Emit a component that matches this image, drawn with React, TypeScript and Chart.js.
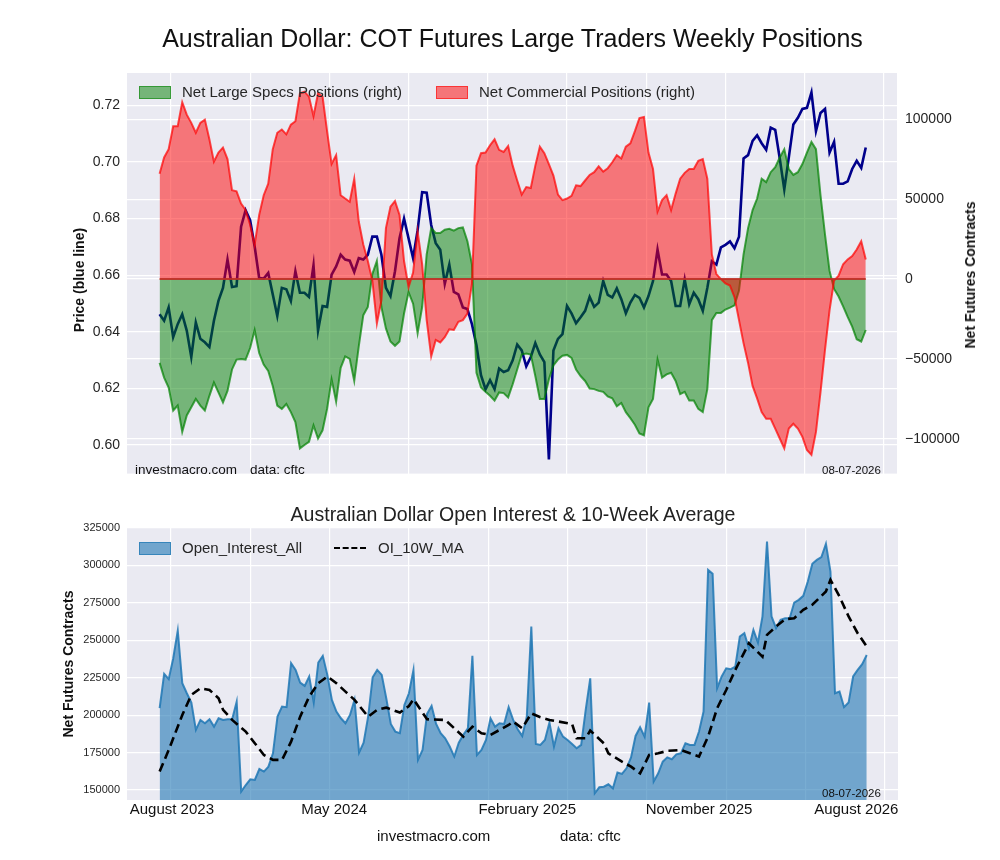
import React, { useEffect, useRef } from "react";
import { Chart, registerables } from "chart.js";

Chart.register(...registerables);

const FONT = '"Liberation Sans", Arial, Helvetica, sans-serif';
Chart.defaults.font.family = FONT;

// ---------- DATA (weekly, 157 reports) ----------
const priceValues = [
  0.6462, 0.6439, 0.6486, 0.6381, 0.6427, 0.6462, 0.6404, 0.6311, 0.6433, 0.6375,
  0.6363, 0.6346, 0.6439, 0.6509, 0.6555, 0.6655, 0.6558, 0.6561, 0.6771, 0.6829,
  0.6794, 0.6701, 0.659, 0.6588, 0.6608, 0.6532, 0.6456, 0.6555, 0.655, 0.6509,
  0.6614, 0.6538, 0.6538, 0.6523, 0.6635, 0.6404, 0.6491, 0.6488, 0.6602, 0.6631,
  0.6672, 0.6655, 0.6651, 0.6611, 0.666, 0.6655, 0.6672, 0.6736, 0.6736, 0.6672,
  0.6555, 0.6526, 0.6614, 0.673, 0.68, 0.673, 0.666, 0.6759, 0.6893, 0.6891,
  0.6777, 0.6713, 0.669, 0.6569, 0.6637, 0.6541, 0.6532, 0.6486, 0.648, 0.6427,
  0.6352, 0.6247, 0.6197, 0.6229, 0.6197, 0.627, 0.6258, 0.6264, 0.6299, 0.6355,
  0.6334, 0.6278, 0.6311, 0.636, 0.632, 0.6293, 0.5949, 0.6334, 0.6375, 0.6392,
  0.6491, 0.6465, 0.643, 0.6451, 0.6474, 0.6523, 0.6488, 0.6503, 0.6579, 0.653,
  0.6521, 0.6553, 0.6515, 0.6465, 0.6503, 0.653, 0.652, 0.6486, 0.6526, 0.6579,
  0.669, 0.6602, 0.6602, 0.6579, 0.6491, 0.6491, 0.6585, 0.6497, 0.6538, 0.6515,
  0.6474, 0.6555, 0.6649, 0.6637, 0.6698, 0.6707, 0.6719, 0.6695, 0.6736, 0.7012,
  0.7024, 0.7074, 0.7094, 0.7066, 0.7043, 0.7121, 0.7113, 0.7012, 0.6903, 0.7016,
  0.7132, 0.7156, 0.7187, 0.7191, 0.7245, 0.7109, 0.7173, 0.7187, 0.7033, 0.7071,
  0.6923, 0.6923, 0.6931, 0.6975, 0.7004, 0.6979, 0.7051,
];

const specsValues = [
  -52500, -61700, -67900, -82300, -79200, -95700, -85400, -80300, -75100, -79200,
  -82300, -73100, -64800, -71000, -77200, -70000, -56600, -50400, -50000, -50400,
  -43200, -31900, -46300, -53500, -57600, -66900, -79200, -81300, -78200, -83300,
  -89500, -106000, -103900, -101900, -91600, -99800, -94700, -81300, -62800, -76800,
  -55600, -48400, -50000, -63800, -42200, -22600, -17500, 3100, 11300,
  -17500, -30900, -39100, -41800, -39100, -21600, -8200, -15400, -34000, -17500,
  15400, 31900, 28800, 28800, 30900, 31500, 30300, 31900, 32300, 23700,
  9300, -58700, -67900, -70600, -73100, -76100, -71000, -71400, -74100, -65900,
  -56600, -47300, -46700, -47300, -60700, -75100, -75100, -62800, -54100, -50400,
  -48000, -47500, -49400, -56600, -60700, -63800, -68500, -68900, -70000, -70600,
  -73500, -74700, -79600, -77600, -83300, -87100, -91200, -96700,
  -97800, -80300, -75100, -50400, -61700, -59700, -58700, -63800, -72000, -70600,
  -76100, -76100, -81300, -83300, -68900, -25700, -21200, -21200, -19100, -17900,
  -16500, -7200, 15400, 31900, 43200, 50400, 62800, 60700, 66900, 70000,
  76100, 81300, 68900, 65200, 66900, 72000, 79200, 85800, 81300, 52500,
  27800, 5100, -6200, -10900, -17100, -23700, -29800, -37700, -39100, -31900,
];

const commValues = [
  65900, 76100, 81300, 95700, 95700, 110700, 102900, 97800, 91600, 97800,
  99800, 87500, 73500, 79200, 82300, 75100, 55600, 54900, 47300, 43200,
  34000, 21600, 40100, 52500, 59700, 81300, 91600, 93600, 90600, 96700,
  98800, 116300, 117300, 114200, 101900, 116300, 114200, 92600, 72000, 77600,
  52500, 50400, 48400, 62800, 36000, 21600, 11300, -1000, -27800,
  -13400, 31900, 45300, 48800, 40100, 11300, -5100, 4100, 29800, 9300,
  -25700, -48400, -38100, -39700, -36400, -31500, -31900, -26800, -25700, -21600,
  -3100, 71000, 78800, 79200, 83800, 87500, 80900, 79600, 83300, 71000,
  61700, 52900, 57600, 57000, 71000, 82900, 78800, 72000, 64800, 52900,
  49400, 50400, 52100, 58700, 58200, 61700, 65200, 66900, 70600, 67300,
  69400, 73100, 77600, 75500, 82900, 85000, 92600, 100800,
  101500, 79200, 68900, 42200, 49400, 52500, 43200, 53500, 62800, 66500,
  68900, 68900, 74100, 75100, 62800, 15400, 3100, 0, -2700, -4100,
  -11300, -25700, -40100, -52500, -66900, -74700, -83300, -87500, -87500, -93600,
  -99800, -106000, -93600, -90600, -93600, -98800, -107000, -110100, -95700, -71000,
  -44200, -19600, -1000, 2100, 9300, 12300, 14400, 18500, 23700, 12300,
];

const oiValues = [
  204600, 227500, 224000, 238000, 256500, 221300, 214600, 208400, 190100, 196800,
  194600, 197200, 192300, 197900, 196800, 197200, 197200, 209000, 148900, 153300,
  157100, 156700, 164000, 162300, 165600, 174500, 199000, 205700, 205300, 234700,
  230200, 221700, 219500, 225800, 208400, 235100, 239600, 226900, 210200, 202400,
  197900, 194600, 200100, 210200, 175000, 181600, 199000, 225300, 230200, 226900,
  211300, 194100, 189000, 187900, 206800, 214600, 230200, 170100, 176700, 200800,
  206100, 194100, 187900, 184500, 179000, 172300, 181600, 186800, 191200, 239600,
  173400, 176700, 183400, 197900, 192300, 194600, 194100, 205300, 196800, 190600,
  186100, 199000, 259200, 180700, 180100, 183400, 195000, 179000, 191200, 185600,
  183400, 180700, 177900, 180100, 203500, 224600, 147800, 151800, 152200, 153800,
  151100, 161600, 160700, 164500, 171800, 186100, 191900, 185600, 208400, 155600,
  161100, 168900, 171800, 170500, 173800, 174500, 181200, 180100, 180100, 189000,
  202400, 297000, 294400, 218000, 225800, 231300, 230700, 232400, 252500, 254700,
  244700, 256900, 248500, 265900, 316000, 265900, 258100, 263600, 264700, 264700,
  275200, 277000, 279700, 289300, 301100, 303700, 305500, 314400, 295900, 214600,
  215700, 205300, 208400, 225800, 230200, 234000, 240200,
];

// 10-week average, read at these report numbers
const maWeeks = [
  0, 2, 5, 7, 9, 11, 13, 14, 16, 19, 21, 23, 25, 27, 29, 31, 33, 35, 37, 39,
  41, 43, 46, 48, 50, 53, 55, 56, 59, 63, 65, 67, 69, 71, 73, 75, 77, 78, 80, 82,
  84, 86, 88, 91, 92, 94, 95, 98, 99, 102, 104, 106, 108, 110, 112, 115, 117, 119, 121, 123,
  125, 127, 130, 133, 134, 136, 138, 140, 142, 144, 147, 148, 150, 152, 154, 156,
];
const maValues = [
  162300, 176700, 200100, 213500, 217900, 216800, 211300, 203500, 196800, 189000,
  181200, 173400, 170100, 170100, 182300, 199000, 212400, 221300, 225800, 221300,
  215700, 210200, 199000, 203500, 205000, 201700, 206100, 210600, 197200, 196800,
  191200, 185600, 192300, 187900, 186800, 190100, 193400, 195700, 191200, 201200,
  198600, 196800, 195700, 194100, 184500, 184500, 189700, 181200, 174500, 168900,
  165600, 161100, 173400, 174500, 176100, 176700, 174500, 172300, 185600, 204600,
  216800, 230200, 248000, 239100, 253600, 259200, 264100, 264700, 270300, 273700,
  282600, 290400, 279200, 265900, 254700, 245800,
];

// axis ticks
const gridWeeks = [2.5, 20, 37.5, 55, 72.5, 90, 107.5, 125, 142.5, 160];
const bottomLabels = ["August 2023", "May 2024", "February 2025", "November 2025", "August 2026"];
const bottomLabelWeeks = [2.7, 38.5, 81.1, 119.0, 153.7];
const priceTicks = [0.6, 0.62, 0.64, 0.66, 0.68, 0.7, 0.72];
const netTicks = [-100000, -50000, 0, 50000, 100000];
const oiTicks = [150000, 175000, 200000, 225000, 250000, 275000, 300000, 325000];

const X_MIN = -7.2;
const X_MAX = 162.9;
const PRICE_MIN = 0.5899;
const PRICE_MAX = 0.7314;
const NET_MIN = -121800;
const NET_MAX = 129000;
const OI_MIN = 143300;
const OI_MAX = 325000;

const pts = (vals: number[]) => vals.map((y, i) => ({ x: i, y }));

const plotBg = {
  id: "plotBg",
  beforeDraw(chart: any) {
    const { ctx, chartArea: a } = chart;
    ctx.save();
    ctx.fillStyle = "#eaeaf2";
    ctx.fillRect(a.left, a.top, a.right - a.left, a.bottom - a.top);
    ctx.restore();
  },
};

const zeroLine = {
  id: "zeroLine",
  afterDatasetsDraw(chart: any) {
    const { ctx } = chart;
    const y = chart.scales.y1.getPixelForValue(0);
    const x0 = chart.scales.x.getPixelForValue(0);
    const x1 = chart.scales.x.getPixelForValue(priceValues.length - 1);
    ctx.save();
    ctx.strokeStyle = "rgba(190,45,35,0.9)";
    ctx.lineWidth = 2;
    ctx.beginPath();
    ctx.moveTo(x0, y);
    ctx.lineTo(x1, y);
    ctx.stroke();
    ctx.restore();
  },
};

const gridOpts = { color: "#ffffff", lineWidth: 1.2, drawTicks: false };
const fmtNet = (v: number) => (v < 0 ? "\u2212" + Math.abs(v) : String(v));

function App() {
  const topRef = useRef<HTMLCanvasElement>(null);
  const botRef = useRef<HTMLCanvasElement>(null);

  useEffect(() => {
    const top = new Chart(topRef.current as HTMLCanvasElement, {
      type: "line",
      data: {
        datasets: [
          {
            label: "Price",
            data: pts(priceValues),
            xAxisID: "x",
            yAxisID: "y",
            borderColor: "#00008b",
            borderWidth: 2.6,
            pointRadius: 0,
            fill: false,
            order: 3,
          },
          {
            label: "Net Large Specs Positions (right)",
            data: pts(specsValues),
            xAxisID: "x",
            yAxisID: "y1",
            borderColor: "rgba(0,128,0,0.7)",
            backgroundColor: "rgba(0,128,0,0.5)",
            borderWidth: 2,
            pointRadius: 0,
            fill: "origin",
            order: 2,
          },
          {
            label: "Net Commercial Positions (right)",
            data: pts(commValues),
            xAxisID: "x",
            yAxisID: "y1",
            borderColor: "rgba(255,0,0,0.7)",
            backgroundColor: "rgba(255,0,0,0.5)",
            borderWidth: 2,
            pointRadius: 0,
            fill: "origin",
            order: 1,
          },
        ],
      } as any,
      options: {
        responsive: false,
        animation: false,
        events: [],
        layout: { padding: { top: 73, bottom: 12, left: 0, right: 0 } },
        plugins: { legend: { display: false }, tooltip: { enabled: false } },
        scales: {
          x: {
            type: "linear",
            min: X_MIN,
            max: X_MAX,
            afterBuildTicks: (s: any) => {
              s.ticks = gridWeeks.map((v) => ({ value: v }));
            },
            afterFit: (s: any) => {
              s.height = 0;
            },
            ticks: { display: false },
            grid: gridOpts,
            border: { display: false },
          },
          y: {
            type: "linear",
            position: "left",
            min: PRICE_MIN,
            max: PRICE_MAX,
            afterBuildTicks: (s: any) => {
              s.ticks = priceTicks.map((v) => ({ value: v }));
            },
            afterFit: (s: any) => {
              s.width = 127;
            },
            ticks: {
              callback: (v: any) => Number(v).toFixed(2),
              font: { size: 14 },
              color: "#262626",
              padding: 7,
            },
            grid: gridOpts,
            border: { display: false },
          },
          y1: {
            type: "linear",
            position: "right",
            min: NET_MIN,
            max: NET_MAX,
            afterBuildTicks: (s: any) => {
              s.ticks = netTicks.map((v) => ({ value: v }));
            },
            afterFit: (s: any) => {
              s.width = 103;
            },
            ticks: {
              callback: (v: any) => fmtNet(Number(v)),
              font: { size: 14 },
              color: "#262626",
              padding: 8,
            },
            grid: gridOpts,
            border: { display: false },
          },
        },
      } as any,
      plugins: [plotBg, zeroLine],
    });

    const bot = new Chart(botRef.current as HTMLCanvasElement, {
      type: "line",
      data: {
        datasets: [
          {
            label: "Open_Interest_All",
            data: pts(oiValues),
            xAxisID: "x",
            yAxisID: "y",
            borderColor: "rgba(31,119,180,0.85)",
            backgroundColor: "rgba(31,119,180,0.6)",
            borderWidth: 2,
            pointRadius: 0,
            fill: "start",
            order: 2,
          },
          {
            label: "OI_10W_MA",
            data: maWeeks.map((w, k) => ({ x: w, y: maValues[k] })),
            xAxisID: "x",
            yAxisID: "y",
            borderColor: "#000000",
            borderWidth: 2.6,
            borderDash: [9, 5],
            pointRadius: 0,
            fill: false,
            order: 1,
          },
        ],
      } as any,
      options: {
        responsive: false,
        animation: false,
        events: [],
        layout: { padding: { top: 38, bottom: 30, left: 0, right: 102 } },
        plugins: { legend: { display: false }, tooltip: { enabled: false } },
        scales: {
          x: {
            type: "linear",
            position: "bottom",
            min: X_MIN,
            max: X_MAX,
            afterBuildTicks: (s: any) => {
              s.ticks = gridWeeks.map((v) => ({ value: v }));
            },
            afterFit: (s: any) => {
              s.height = 0;
            },
            ticks: { display: false },
            grid: gridOpts,
            border: { display: false },
          },
          x2: {
            type: "linear",
            position: "bottom",
            min: X_MIN,
            max: X_MAX,
            afterBuildTicks: (s: any) => {
              s.ticks = bottomLabelWeeks.map((v) => ({ value: v }));
            },
            afterFit: (s: any) => {
              s.height = 30;
            },
            ticks: {
              callback: (_v: any, i: number) => bottomLabels[i],
              autoSkip: false,
              maxRotation: 0,
              minRotation: 0,
              font: { size: 15 },
              color: "#111111",
              padding: 1,
            },
            grid: { display: false, drawTicks: false },
            border: { display: false },
          },
          y: {
            type: "linear",
            position: "left",
            min: OI_MIN,
            max: OI_MAX,
            afterBuildTicks: (s: any) => {
              s.ticks = oiTicks.map((v) => ({ value: v }));
            },
            afterFit: (s: any) => {
              s.width = 127;
            },
            ticks: {
              callback: (v: any) => String(v),
              font: { size: 11 },
              color: "#262626",
              padding: 7,
            },
            grid: gridOpts,
            border: { display: false },
          },
        },
      } as any,
      plugins: [plotBg],
    });

    return () => {
      top.destroy();
      bot.destroy();
    };
  }, []);

  const abs = (extra: React.CSSProperties): React.CSSProperties => ({
    position: "absolute",
    whiteSpace: "nowrap",
    ...extra,
  });
  const rotated = (cx: number, cy: number, size: number): React.CSSProperties => ({
    position: "absolute",
    left: cx,
    top: cy,
    transform: "translate(-50%, -50%) rotate(-90deg)",
    whiteSpace: "nowrap",
    fontWeight: "bold",
    fontSize: size,
    color: "#111",
  });

  return (
    <div
      style={{
        position: "absolute",
        left: 0,
        top: 0,
        width: 1000,
        height: 860,
        background: "#ffffff",
        fontFamily: FONT,
        color: "#262626",
        overflow: "hidden",
      }}
    >
      <canvas
        ref={topRef}
        width={1000}
        height={490}
        style={{ position: "absolute", left: 0, top: 0, width: 1000, height: 490 }}
      />
      <canvas
        ref={botRef}
        width={1000}
        height={370}
        style={{ position: "absolute", left: 0, top: 490, width: 1000, height: 370 }}
      />

      {/* titles */}
      <div style={abs({ left: 0, width: 1025, top: 22, textAlign: "center", fontSize: 25, lineHeight: "32px", color: "#111" })}>
        Australian Dollar: COT Futures Large Traders Weekly Positions
      </div>
      <div style={abs({ left: 0, width: 1026, top: 501, textAlign: "center", fontSize: 19.5, lineHeight: "26px", color: "#222" })}>
        Australian Dollar Open Interest &amp; 10-Week Average
      </div>

      {/* axis titles */}
      <div style={rotated(79, 280, 14)}>Price (blue line)</div>
      <div style={rotated(970, 275, 14)}>Net Futures Contracts</div>
      <div style={rotated(68, 664, 14)}>Net Futures Contracts</div>

      {/* top legend */}
      <div
        style={abs({
          left: 139,
          top: 86,
          width: 30,
          height: 11,
          background: "rgba(0,128,0,0.5)",
          border: "1px solid rgba(0,128,0,0.55)",
        })}
      />
      <div style={abs({ left: 182, top: 82, fontSize: 15, lineHeight: "20px" })}>Net Large Specs Positions (right)</div>
      <div
        style={abs({
          left: 436,
          top: 86,
          width: 30,
          height: 11,
          background: "rgba(255,0,0,0.5)",
          border: "1px solid rgba(255,0,0,0.55)",
        })}
      />
      <div style={abs({ left: 479, top: 82, fontSize: 15, lineHeight: "20px" })}>Net Commercial Positions (right)</div>

      {/* top watermark */}
      <div style={abs({ left: 135, top: 462, fontSize: 13.5, lineHeight: "16px", color: "#111" })}>investmacro.com</div>
      <div style={abs({ left: 250, top: 462, fontSize: 13.5, lineHeight: "16px", color: "#111" })}>data: cftc</div>
      <div style={abs({ left: 822, top: 463, fontSize: 11.5, lineHeight: "15px", color: "#111" })}>08-07-2026</div>

      {/* bottom legend */}
      <div
        style={abs({
          left: 139,
          top: 542,
          width: 30,
          height: 11,
          background: "rgba(31,119,180,0.6)",
          border: "1px solid rgba(31,119,180,0.7)",
        })}
      />
      <div style={abs({ left: 182, top: 538, fontSize: 15, lineHeight: "20px" })}>Open_Interest_All</div>
      <div style={abs({ left: 334, top: 547, width: 32, height: 0, borderTop: "2.5px dashed #000" })} />
      <div style={abs({ left: 378, top: 538, fontSize: 15, lineHeight: "20px" })}>OI_10W_MA</div>

      <div style={abs({ left: 822, top: 786, fontSize: 11.5, lineHeight: "15px", color: "#111" })}>08-07-2026</div>

      {/* footer */}
      <div style={abs({ left: 377, top: 827, fontSize: 15, lineHeight: "18px", color: "#111" })}>investmacro.com</div>
      <div style={abs({ left: 560, top: 827, fontSize: 15, lineHeight: "18px", color: "#111" })}>data: cftc</div>
    </div>
  );
}

export default App;
